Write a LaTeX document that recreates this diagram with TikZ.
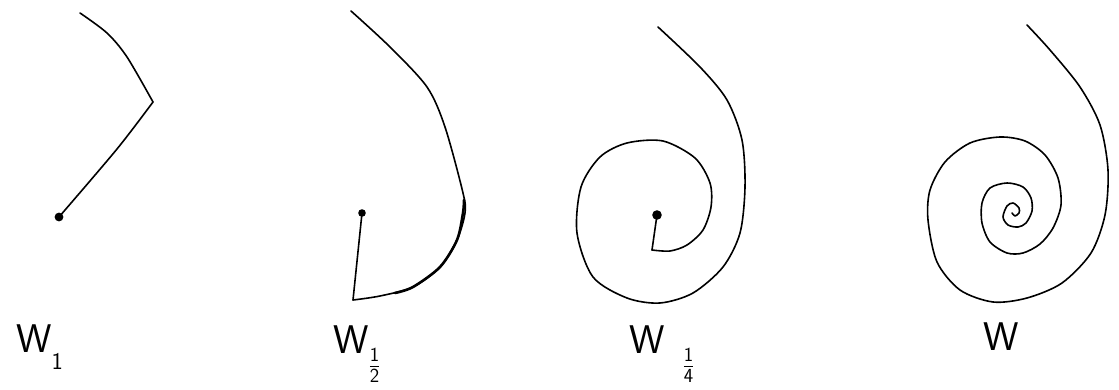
\RequirePackage{fix-cm}
\documentclass[tikz,border=0pt]{standalone}
\usetikzlibrary{calc}

\begin{document}
\begin{tikzpicture}[x=1pt,y=-1pt,
  curve/.style={line width=1.6pt,line cap=round,line join=round},
  wlabel/.style={anchor=base west,inner sep=0pt,font=\sffamily\fontsize{40}{40}\selectfont}]
  \useasboundingbox (0,0) rectangle (1119,390);
  % W_1
  \coordinate (P1) at (59,217);
  \coordinate (K1) at (153,102);
  \draw[curve] plot[smooth] coordinates {(80,13) (107,33) (127,57) (K1)};
  \draw[curve] plot[smooth] coordinates {(K1) (117,149) (P1)};
  \fill (P1) circle (4.4);
  \node[wlabel] (w1) at (16,352) {W\raisebox{-17pt}{\fontsize{24}{24}\selectfont 1}};
  % W_1/2
  \coordinate (P2) at (362,213);
  \coordinate (K2) at (353,300);
  \draw[curve] plot[smooth] coordinates {(351,11) (390,47) (427,87) (445,127)
    (463,193) (465,213) (457,240) (440,267) (413,287) (380,296) (K2)};
  \draw[curve,line width=2.6pt] plot[smooth] coordinates {(464,200) (463,213) (457,240) (440,267) (413,287) (395,293)};
  \draw[curve] (K2) -- (P2);
  \fill (P2) circle (3.8);
  \node[wlabel] (w2) at (333,353) {W\raisebox{-20pt}{$\scriptstyle\frac{\mathsf{1}}{\mathsf{2}}$}};
  % W_1/4
  \coordinate (P3) at (657,215);
  \coordinate (K3) at (652,250);
  \draw[curve] plot[smooth] coordinates {(K3) (670,251) (687,245) (703,230) (711,207)
    (710,183) (695,158) (663,141) (627,143) (600,157) (581,187) (577,233) (593,277)
    (627,298) (660,303) (693,293) (723,267) (740,233) (745,187) (742,140) (727,100)
    (700,67) (658,27)};
  \draw[curve] (K3) -- (P3);
  \fill (P3) circle (4.8);
  \node[wlabel] (w3) at (629,353) {W\hspace{18pt}\raisebox{-20pt}{$\scriptstyle\frac{\mathsf{1}}{\mathsf{4}}$}};
  % W
  \draw[curve] plot[smooth] coordinates {(1012,213) (1015,216) (1019,213) (1019,208)
    (1013,203) (1007,206) (1003,217) (1008,225) (1018,227) (1026,223) (1032,211)
    (1031,198) (1023,187) (1007,183) (990,188) (982,203) (982,223) (990,242)
    (1007,253) (1023,253) (1040,244) (1053,228) (1061,205) (1058,178) (1045,155)
    (1025,141) (1000,137) (970,143) (945,162) (930,190) (928,220) (937,262)
    (960,290) (993,302) (1027,298) (1062,283) (1091,253) (1105,215) (1108,170)
    (1100,125) (1080,87) (1050,50) (1027,25)};
  \node[wlabel] (w4) at (983,350) {W};
\end{tikzpicture}
\end{document}
